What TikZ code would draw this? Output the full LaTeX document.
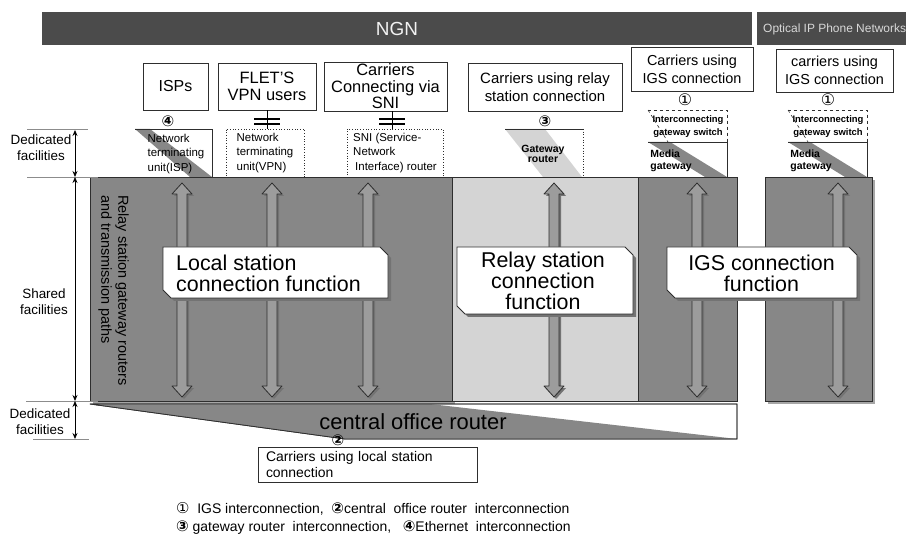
\documentclass[tikz,border=0pt]{standalone}
\usepackage{fontspec}
\setmainfont{Liberation Sans}
\newfontfamily\dvs{DejaVu Sans}
\usetikzlibrary{arrows.meta}
\definecolor{ngnbar}{HTML}{4B4B4B}
\definecolor{ngntext}{HTML}{F2F2F2}
\definecolor{opttext}{HTML}{D8D8D8}
\definecolor{blockgray}{HTML}{878787}
\definecolor{lightgray2}{HTML}{D4D4D4}
\definecolor{arrowgray}{HTML}{9C9C9C}
\definecolor{edgec}{HTML}{2E2E2E}
\newcommand{\fsz}[2]{\fontsize{#1}{#2}\selectfont}
\begin{document}
\begin{tikzpicture}[x=1bp,y=-1bp,
  topbox/.style={draw=edgec,line width=0.9bp,fill=white,align=center,inner sep=0pt},
  dotbox/.style={draw=edgec,line width=0.7bp,dotted,fill=white,align=left,inner sep=0pt},
  txt/.style={inner sep=0pt,align=center},
  measure/.style={{Stealth[length=6bp,width=5bp]}-{Stealth[length=6bp,width=5bp]},line width=0.8bp},
  guide/.style={draw=black!45,line width=0.6bp},
  blk/.style={fill=blockgray,draw=edgec,line width=0.8bp},
  blkshadow/.style={fill=black!35},
  num/.style={inner sep=0pt,font=\dvs\bfseries\fsz{15}{15}},
  numthin/.style={inner sep=0pt,font=\dvs\fsz{16}{16}},
  fshadow/.style={fill=black!55},
  fbox/.style={fill=white,draw=edgec,line width=0.9bp},
  ftext/.style={inner sep=0pt,font=\fsz{21.5}{21}},
  arr/.style={fill=arrowgray,draw=edgec,line width=0.8bp,line join=round}
]
\fill[white] (0,0) rectangle (906,546);
\useasboundingbox (0,0) rectangle (906,546);

% ---- top bars
\node[fill=ngnbar,minimum width=710bp,minimum height=33bp,inner sep=0pt,text=ngntext,font=\fsz{19}{19}] (ngn) at (397,28.5) {NGN};
\begin{scope}
  \clip (757,12) rectangle (906,45);
  \fill[ngnbar] (757,12) rectangle (906,45);
  \node[anchor=west,inner sep=0pt,text=opttext,font=\fsz{12}{12}] (opt) at (763,29) {Optical IP Phone Networks};
\end{scope}

% ---- shared facility blocks
\fill[blkshadow] (93,180) rectangle (455,404);
\fill[blkshadow] (768,180) rectangle (875,404);
\filldraw[blk] (90,177) rectangle (452,401);
\filldraw[fill=lightgray2,draw=edgec,line width=0.8bp] (452,177) rectangle (638,401);
\filldraw[blk] (638,177) rectangle (737,401);
\filldraw[blk] (765,177) rectangle (872,401);

% ---- upper boxes
\node[topbox,minimum width=65bp,minimum height=47bp,font=\fsz{16}{17}] (isps) at (175.5,86.5) {ISPs};
\node[topbox,minimum width=98bp,minimum height=47bp,font=\fsz{16.5}{17.5}] (flets) at (267,86.5) {FLET'S\\VPN users};
\node[topbox,minimum width=123bp,minimum height=49bp,font=\fsz{16.5}{16.5}] (snic) at (385.5,86.5) {Carriers\\Connecting via\\SNI};
\node[topbox,minimum width=154bp,minimum height=48bp,font=\fsz{15}{18}] (relayc) at (545,87) {Carriers using relay\\station connection};
\node[topbox,minimum width=122bp,minimum height=44bp,font=\fsz{14.5}{18}] (igsc) at (692,69) {Carriers using\\IGS connection};
\node[topbox,minimum width=117bp,minimum height=43bp,font=\fsz{14.5}{18}] (igsc2) at (834.5,70.5) {carriers using\\IGS connection};

% ---- circled numbers
\node[num] (n4) at (168,121) {④};
\node[num] (n3) at (545,121) {③};
\node[numthin] (n1a) at (685,100) {①};
\node[numthin] (n1b) at (828,100) {①};

% ---- dedicated facilities (top)
\fill[blockgray] (135,129) -- (150,129) -- (212,177) -- (190,177) -- cycle;
\draw[edgec,line width=0.8bp] (135,129) -- (212,129) -- (212,177);
\node[txt,align=left,font=\fsz{11.5}{14.5}] (ispu) at (176,154) {Network\\terminating\\unit(ISP)};

\node[dotbox,minimum width=78bp,minimum height=48bp,font=\fsz{11.5}{14.5}] (vpnu) at (265,153) {Network\\terminating\\unit(VPN)};
\node[dotbox,minimum width=96bp,minimum height=48bp,font=\fsz{11.5}{14.5}] (sniu) at (395,153) {SNI (Service-\\Network\\\hspace{2bp}Interface) router};

% cut symbols
\draw[line width=0.9bp] (flets.south) -- (flets.south |- vpnu.north);
\draw[line width=1.3bp] (254,119) -- (280,119) (254,124) -- (280,124);
\draw[line width=0.9bp] ([xshift=6.5bp]snic.south) -- ([xshift=6.5bp]snic.south |- sniu.north);
\draw[line width=1.3bp] (379,119) -- (405,119) (379,124) -- (405,124);

% gateway router
\fill[lightgray2] (505,129) -- (545,129) -- (582,177) -- (543,177) -- cycle;
\draw[edgec,line width=0.8bp] (505,129) -- (583,129);
\draw[edgec,line width=0.7bp,dotted] (583,129) -- (583,177);
\node[txt,font=\bfseries\fsz{10.5}{10.5}] (gwr) at (543,154) {Gateway\\router};

% IGS switch + media gateway (1)
\draw[edgec,line width=0.7bp,dashed] (648,110) -- (727,110) -- (727,142);
\draw[edgec,line width=0.6bp,dashed] (648,110) -- (668,142);
\node[txt,font=\bfseries\fsz{9.5}{13}] (sw1) at (688,127) {Interconnecting\\gateway switch};
\fill[blockgray] (648,142) -- (670,142) -- (727,177) -- (705,177) -- cycle;
\draw[edgec,line width=0.8bp] (648,142) -- (727,142) -- (727,177);
\node[txt,align=left,font=\bfseries\fsz{10.5}{12.5}] (mg1) at (671,161) {Media\\gateway};

% IGS switch + media gateway (2)
\draw[edgec,line width=0.7bp,dashed] (788,110) -- (867,110) -- (867,142);
\draw[edgec,line width=0.6bp,dashed] (788,110) -- (808,142);
\node[txt,font=\bfseries\fsz{9.5}{13}] (sw2) at (828,127) {Interconnecting\\gateway switch};
\fill[blockgray] (788,142) -- (810,142) -- (867,177) -- (845,177) -- cycle;
\draw[edgec,line width=0.8bp] (788,142) -- (867,142) -- (867,177);
\node[txt,align=left,font=\bfseries\fsz{10.5}{12.5}] (mg2) at (811,161) {Media\\gateway};

% ---- vertical text
\node[rotate=-90,anchor=north west,align=left,inner sep=0pt,font=\fsz{14.5}{17}] (vtext) at (129,195) {Relay station gateway routers\\and transmission paths};

% ---- double arrows
\foreach \ax in {182,272,368,554,697,838}{
  \fill[black!55] (\ax+2,185) -- (\ax+12,196) -- (\ax+7,196) -- (\ax+7,388) -- (\ax+12,388) -- (\ax+2,399) -- (\ax-8,388) -- (\ax-3,388) -- (\ax-3,196) -- (\ax-8,196) -- cycle;
  \filldraw[arr] (\ax,183) -- (\ax+10,194) -- (\ax+5,194) -- (\ax+5,386) -- (\ax+10,386) -- (\ax,397) -- (\ax-10,386) -- (\ax-5,386) -- (\ax-5,194) -- (\ax-10,194) -- cycle;
}

% ---- function labels
\fill[fshadow] (166,250) -- (383,250) -- (391,258) -- (391,301) -- (174,301) -- (166,293) -- cycle;
\filldraw[fbox] (163,247) -- (380,247) -- (388,255) -- (388,298) -- (171,298) -- (163,290) -- cycle;
\node[ftext,align=left,anchor=west] (lsf) at (176,273) {Local station\\connection function};

\fill[fshadow] (460,250) -- (628,250) -- (636,258) -- (636,317) -- (468,317) -- (460,309) -- cycle;
\filldraw[fbox] (457,247) -- (625,247) -- (633,255) -- (633,314) -- (465,314) -- (457,306) -- cycle;
\node[ftext,align=center] (rsf) at (543,281) {Relay station\\connection\\function};

\fill[fshadow] (670,250) -- (852,250) -- (860,258) -- (860,301) -- (678,301) -- (670,293) -- cycle;
\filldraw[fbox] (667,247) -- (849,247) -- (857,255) -- (857,298) -- (675,298) -- (667,290) -- cycle;
\node[ftext,align=center] (igf) at (761.5,273) {IGS connection\\function};

% ---- central office router
\filldraw[fill=white,draw=edgec,line width=0.8bp] (90,404) -- (737,404) -- (737,439) -- (345,439) -- cycle;
\fill[blockgray] (90,404) -- (430,404) -- (737,439) -- (345,439) -- cycle;
\draw[edgec,line width=0.8bp] (90,404) -- (737,404) -- (737,439) -- (345,439) -- cycle;
\node[txt,font=\fsz{22}{22}] (cor) at (413,422) {central office router};
\node[num] (n2) at (338,440) {②};
\node[draw=edgec,line width=0.9bp,fill=white,text width=203bp,align=left,minimum height=35bp,inner xsep=8bp,inner ysep=0pt,font=\fsz{14}{17}] (cloc) at (367.5,464.5) {Carriers using local station\\connection};

% ---- left measurements
\coordinate (m1) at (75,130);
\coordinate (m2) at (75,177);
\coordinate (m3) at (75,401);
\coordinate (m4) at (75,439);
\draw[guide] (27,129) -- (88,129);
\draw[guide] (27,177) -- (98,177);
\draw[guide] (26,401) -- (98,401);
\draw[guide] (33,439) -- (89,439);
\draw[measure] (m1) -- (m2);
\draw[measure] (m2) -- (m3);
\draw[measure] (m3) -- (m4);
\node[txt,font=\fsz{13.5}{16}] (ded1) at (41,148) {Dedicated\\facilities};
\node[txt,font=\fsz{13.5}{16}] (shr) at (44,302) {Shared\\facilities};
\node[txt,font=\fsz{13.5}{16}] (ded2) at (40,422) {Dedicated\\facilities};

% ---- legend
\node[anchor=west,align=left,inner sep=0pt,font=\fsz{14}{18}] (legend) at (176,518) {{\dvs\fsz{15}{18}①}\ \ IGS interconnection,\ \ {\dvs\bfseries\fsz{15}{18}②}central\ \ office router\ \ interconnection\\{\dvs\bfseries\fsz{15}{18}③} gateway router\ \ interconnection,\ \ \ {\dvs\bfseries\fsz{15}{18}④}Ethernet\ \ interconnection};
\end{tikzpicture}
\end{document}
